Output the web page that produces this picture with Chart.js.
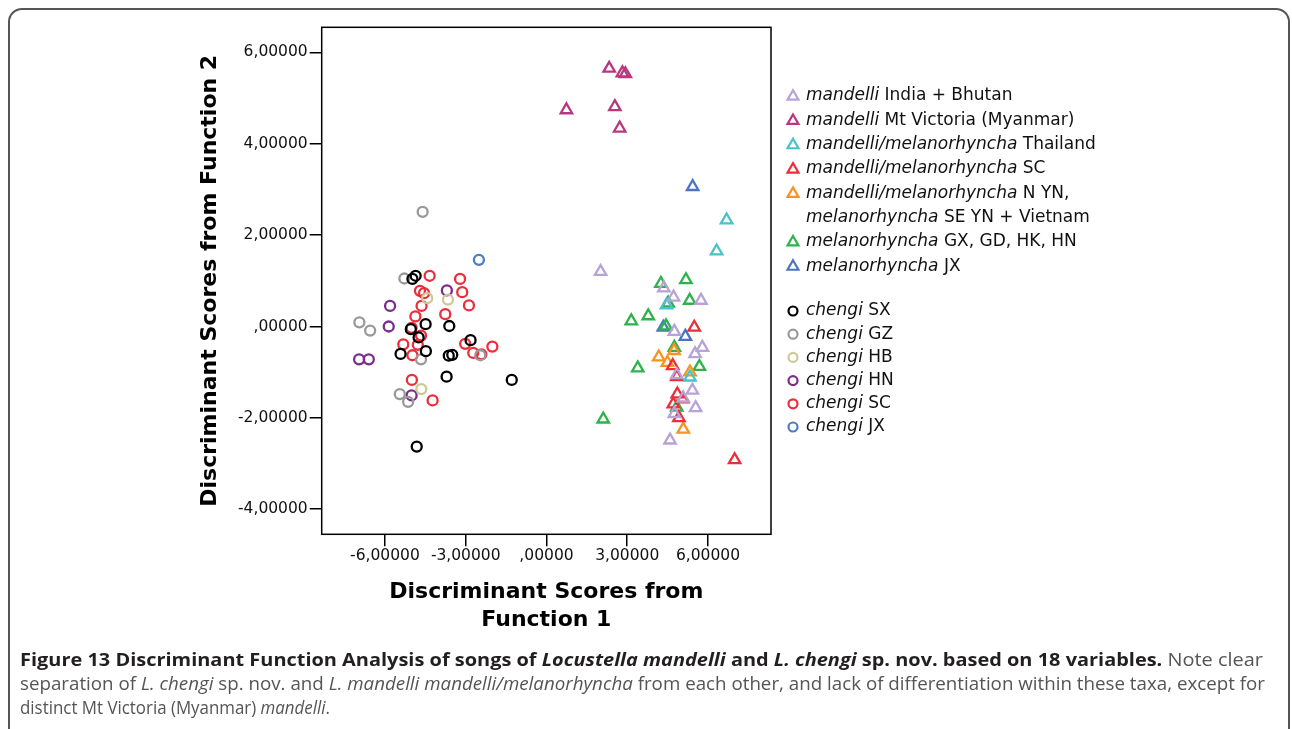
<!DOCTYPE html>
<html>
<head>
<meta charset="utf-8">
<script src="https://cdn.jsdelivr.net/npm/chart.js@4/dist/chart.umd.min.js"></script>
<style>
  html, body { margin: 0; padding: 0; background: #fff; }
  #wrap { position: relative; width: 1292px; height: 729px; overflow: hidden; }
  #frame { position: absolute; left: 8px; top: 8px; width: 1282px; height: 780px; border: 2px solid #555; border-radius: 14px; box-sizing: border-box; }
  #chart { position: absolute; left: 0; top: 0; }
  .cap { position: absolute; left: 20px; font-family: "Open Sans"; font-size: 18px; line-height: 24px; color: #555; white-space: nowrap; transform-origin: 0 0; }
  .cap b { color: #231f20; }
</style>
</head>
<body>
<div id="wrap">
  <div id="frame"></div>
  <canvas id="chart" width="1292" height="729"></canvas>
  <div class="cap" data-w="1243" style="top:647px"><b>Figure 13 Discriminant Function Analysis of songs of <i>Locustella mandelli</i> and <i>L. chengi</i> sp. nov. based on 18 variables.</b> Note clear</div>
  <div class="cap" data-w="1245" style="top:671px">separation of <i>L. chengi</i> sp. nov. and <i>L. mandelli mandelli/melanorhyncha</i> from each other, and lack of differentiation within these taxa, except for</div>
  <div class="cap" data-w="310" style="top:695px">distinct Mt Victoria (Myanmar) <i>mandelli</i>.</div>
</div>
<script>
// discriminant scores [function 1, function 2] per group
const indiaBhutan = [[2.01, 1.20], [4.36, 0.84], [4.72, 0.64], [5.74, 0.57], [4.75, -0.11], [5.79, -0.46], [5.52, -0.60],
  [4.84, -1.06], [5.42, -1.40], [5.08, -1.57], [5.54, -1.78], [4.75, -1.91], [4.59, -2.49]];
const mtVictoria = [[2.33, 5.65], [2.82, 5.55], [2.93, 5.53], [0.74, 4.74], [2.54, 4.81], [2.72, 4.34]];
const thailand = [[6.69, 2.33], [6.32, 1.65], [4.46, 0.47], [5.33, -1.11]];
const mandelliSC = [[5.49, -0.02], [4.69, -0.86], [4.84, -1.10], [4.86, -1.48], [5.06, -1.59], [4.71, -1.70], [4.92, -2.00], [6.99, -2.92]];
const nYnVietnam = [[4.74, -0.53], [4.17, -0.67], [4.49, -0.79], [5.33, -1.00], [5.08, -2.25]];
const gxGdHkHn = [[4.25, 0.94], [5.18, 1.02], [5.32, 0.57], [4.52, 0.51], [3.15, 0.12], [3.78, 0.23], [4.44, 0.01],
  [4.75, -0.46], [5.68, -0.88], [3.39, -0.91], [4.84, -1.77], [2.11, -2.03]];
const melanoJX = [[4.34, -0.02], [5.16, -0.22], [5.43, 3.06]];

const chengiSX = [[-4.98, 1.04], [-4.86, 1.11], [-4.49, 0.05], [-3.61, 0.01], [-5.04, -0.06], [-4.75, -0.24], [-2.82, -0.30],
  [-4.48, -0.54], [-5.42, -0.60], [-3.63, -0.64], [-3.50, -0.62], [-3.71, -1.10], [-1.29, -1.17], [-4.82, -2.63]];
const chengiGZ = [[-4.60, 2.51], [-5.28, 1.05], [-6.95, 0.09], [-6.55, -0.09], [-4.66, -0.72], [-2.46, -0.63], [-5.45, -1.48], [-5.14, -1.65]];
const chengiHB = [[-4.43, 0.62], [-3.66, 0.59], [-4.65, -1.37]];
const chengiHN = [[-3.70, 0.79], [-5.81, 0.45], [-5.86, 0.00], [-6.96, -0.72], [-6.60, -0.72], [-5.01, -1.51]];
const chengiSC = [[-4.34, 1.11], [-3.21, 1.04], [-4.70, 0.78], [-4.55, 0.73], [-3.13, 0.75], [-4.64, 0.45], [-2.88, 0.46],
  [-4.87, 0.22], [-3.76, 0.27], [-5.01, -0.03], [-4.66, -0.20], [-4.78, -0.40], [-5.32, -0.39], [-3.02, -0.38],
  [-2.72, -0.58], [-2.42, -0.61], [-2.01, -0.44], [-4.98, -0.63], [-5.00, -1.17], [-4.23, -1.62]];
const chengiJX = [[-2.51, 1.46]];

const xTickValues = [-6, -3, 0, 3, 6];
const xTickLabels = ['-6,00000', '-3,00000', ',00000', '3,00000', '6,00000'];
const yTickValues = [-4, -2, 0, 2, 4, 6];
const yTickLabels = ['-4,00000', '-2,00000', ',00000', '2,00000', '4,00000', '6,00000'];

// legend text: each line is [italic part, plain part]
const groups = [
  { pts: indiaBhutan, color: '#b9a3d6', shape: 'triangle', legend: [['mandelli', ' India + Bhutan']] },
  { pts: mtVictoria, color: '#b8387f', shape: 'triangle', legend: [['mandelli', ' Mt Victoria (Myanmar)']] },
  { pts: thailand, color: '#47c3c9', shape: 'triangle', legend: [['mandelli/melanorhyncha', ' Thailand']] },
  { pts: mandelliSC, color: '#ee2d3b', shape: 'triangle', legend: [['mandelli/melanorhyncha', ' SC']] },
  { pts: nYnVietnam, color: '#f7941d', shape: 'triangle', legend: [['mandelli/melanorhyncha', ' N YN,'], ['melanorhyncha', ' SE YN + Vietnam']] },
  { pts: gxGdHkHn, color: '#2db34a', shape: 'triangle', legend: [['melanorhyncha', ' GX, GD, HK, HN']] },
  { pts: melanoJX, color: '#4b74c1', shape: 'triangle', legend: [['melanorhyncha', ' JX']] },
  { pts: chengiSX, color: '#000000', shape: 'circle', legend: [['chengi', ' SX']] },
  { pts: chengiGZ, color: '#999999', shape: 'circle', legend: [['chengi', ' GZ']] },
  { pts: chengiHB, color: '#cdc996', shape: 'circle', legend: [['chengi', ' HB']] },
  { pts: chengiHN, color: '#7b2c8c', shape: 'circle', legend: [['chengi', ' HN']] },
  { pts: chengiSC, color: '#ee2d3b', shape: 'circle', legend: [['chengi', ' SC']] },
  { pts: chengiJX, color: '#4d7dc7', shape: 'circle', legend: [['chengi', ' JX']] }
];

const FONT = '"DejaVu Sans"';

const framePlugin = {
  id: 'frame',
  beforeDatasetsDraw(chart) {
    const { ctx, chartArea: a } = chart;
    ctx.save();
    ctx.strokeStyle = '#000';
    ctx.lineWidth = 1.5;
    ctx.strokeRect(a.left, a.top, a.right - a.left, a.bottom - a.top);
    ctx.restore();
  }
};

const legendPlugin = {
  id: 'sideLegend',
  afterDraw(chart) {
    const ctx = chart.ctx;
    const markerX = 793, textX = 806;
    let y = 96;
    ctx.save();
    ctx.textBaseline = 'middle';
    groups.forEach((g, i) => {
      if (i === 7) y = 311;
      const step = i < 7 ? 24.3 : 23.2;
      ctx.strokeStyle = g.color;
      ctx.fillStyle = 'rgba(0,0,0,0)';
      ctx.lineWidth = 2.2;
      Chart.helpers.drawPoint(ctx, {
        pointStyle: g.shape, radius: g.shape === 'triangle' ? 6.3 : 4.5, rotation: 0, borderWidth: 2.2
      }, markerX, g.shape === 'triangle' ? y + 0.5 : y);
      g.legend.forEach(line => {
        ctx.fillStyle = '#111';
        ctx.font = 'oblique 17px ' + FONT;
        ctx.fillText(line[0], textX, y);
        const w = ctx.measureText(line[0]).width;
        ctx.font = '17px ' + FONT;
        ctx.fillText(line[1], textX + w, y);
        y += step;
      });
    });
    ctx.restore();
  }
};

new Chart(document.getElementById('chart'), {
  type: 'scatter',
  data: {
    datasets: groups.map(g => ({
      label: g.legend.map(l => l.join('')).join(' '),
      data: g.pts.map(p => ({ x: p[0], y: p[1] })),
      pointStyle: g.shape,
      radius: g.shape === 'triangle' ? 6.6 : 5,
      borderWidth: 2.3,
      borderColor: g.color,
      backgroundColor: 'rgba(0,0,0,0)'
    }))
  },
  options: {
    responsive: false,
    animation: false,
    events: [],
    layout: { padding: { left: 196, top: 27.3, right: 521, bottom: 95 } },
    plugins: { legend: { display: false }, tooltip: { enabled: false } },
    scales: {
      x: {
        type: 'linear',
        min: -8.35, max: 8.34,
        afterBuildTicks: s => { s.ticks = xTickValues.map(v => ({ value: v })); },
        afterFit: s => { s.height = 99.7; },
        border: { display: false },
        grid: { drawOnChartArea: false, drawTicks: true, tickLength: 12, tickColor: '#000', lineWidth: 1.5 },
        ticks: { padding: 0, color: '#111', font: { family: FONT, size: 15.5 }, maxRotation: 0, callback: (v, i) => xTickLabels[i] },
        title: { display: true, text: ['Discriminant Scores from', 'Function 1'], color: '#000', padding: 0,
          font: { family: FONT, size: 22, weight: 'bold', lineHeight: 1.27 } }
      },
      y: {
        type: 'linear',
        min: -4.55, max: 6.55,
        afterBuildTicks: s => { s.ticks = yTickValues.map(v => ({ value: v })); },
        afterFit: s => { s.width = 125.7; },
        border: { display: false },
        grid: { drawOnChartArea: false, drawTicks: true, tickLength: 12, tickColor: '#000', lineWidth: 1.5 },
        ticks: { padding: 2, color: '#111', font: { family: FONT, size: 15.5 }, callback: (v, i) => yTickLabels[i] },
        title: { display: true, text: 'Discriminant Scores from Function 2', color: '#000', padding: 0,
          font: { family: FONT, size: 22, weight: 'bold', lineHeight: 1.27 } }
      }
    }
  },
  plugins: [framePlugin, legendPlugin]
});

// condense each caption line to its width in the reference
function fitCaption() {
  document.querySelectorAll('.cap').forEach(el => {
    el.style.transform = 'none';
    const k = +el.dataset.w / el.getBoundingClientRect().width;
    el.style.transform = 'scaleX(' + k + ')';
  });
}
fitCaption();
if (document.fonts && document.fonts.ready) document.fonts.ready.then(fitCaption);
</script>
</body>
</html>
